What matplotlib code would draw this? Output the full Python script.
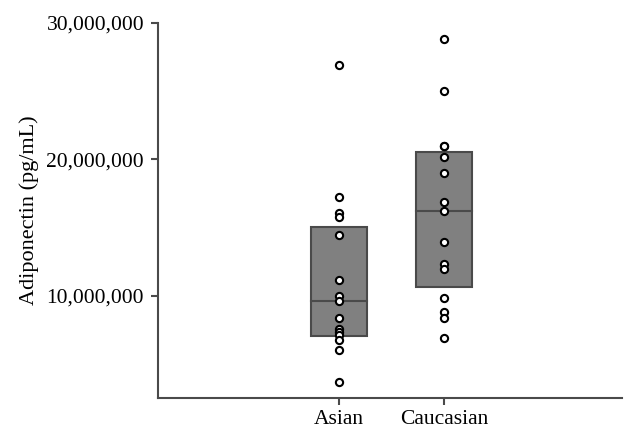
import matplotlib
matplotlib.use("Agg")
import matplotlib.pyplot as plt
from matplotlib.ticker import FuncFormatter

# данные (pg/mL)
groups = ["Asian", "Caucasian"]
asian = [26.9e6, 17.25e6, 16.1e6, 15.75e6, 14.45e6, 11.15e6, 10.0e6, 9.63e6,
         8.41e6, 7.55e6, 7.33e6, 7.12e6, 6.75e6, 6.04e6, 3.68e6]
caucasian = [28.85e6, 25.0e6, 21.0e6, 20.95e6, 20.2e6, 19.0e6, 16.85e6, 16.25e6,
             13.95e6, 12.35e6, 11.95e6, 9.83e6, 8.8e6, 8.4e6, 6.95e6]
box_low = [7.09e6, 10.68e6]
box_high = [15.08e6, 20.53e6]
box_mid = [9.61e6, 16.23e6]

plt.rcParams['font.family'] = ['Liberation Serif', 'DejaVu Serif']

fig = plt.figure(figsize=(6.37, 4.4), dpi=100)
ax = fig.add_axes([0.248, 0.0955, 0.728, 0.8525])

edge = '#4a4a4a'
xs = range(len(groups))
heights = [h - l for h, l in zip(box_high, box_low)]
ax.bar(xs, heights, bottom=box_low, width=0.54, color='#808080',
       edgecolor=edge, linewidth=1.5, zorder=2)
for i, m in enumerate(box_mid):
    ax.plot([i - 0.27, i + 0.27], [m, m], color=edge, linewidth=1.5, zorder=3)

for i, vals in enumerate([asian, caucasian]):
    ax.plot([i] * len(vals), vals, 'o', markersize=5.2, markerfacecolor='white',
            markeredgecolor='black', markeredgewidth=1.5, linestyle='none', zorder=4)

ax.set_xlim(-1.724, 2.695)
ax.set_ylim(2.53e6, 30e6)
ax.set_yticks([10e6, 20e6, 30e6])
ax.yaxis.set_major_formatter(FuncFormatter(lambda v, p: f'{int(v):,}'))
ax.set_xticks(list(xs))
ax.set_xticklabels(groups)

for s in ['top', 'right']:
    ax.spines[s].set_visible(False)
for s in ['left', 'bottom']:
    ax.spines[s].set_color(edge)
    ax.spines[s].set_linewidth(1.5)
ax.tick_params(axis='both', colors=edge, width=1.5, length=5, labelsize=15.5,
               labelcolor='black')
ax.tick_params(axis='y', pad=5)
ax.tick_params(axis='x', pad=4)

ax.set_ylabel('Adiponectin (pg/mL)', fontsize=16)
ax.yaxis.set_label_coords(-0.256, 0.5)

fig.savefig('out.png', dpi=100)
